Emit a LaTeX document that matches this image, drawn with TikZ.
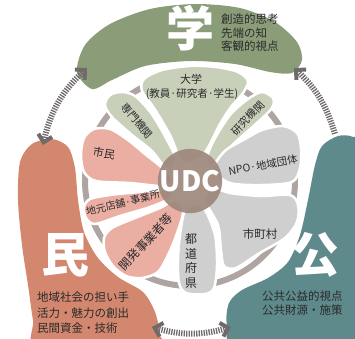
\documentclass[tikz,border=0pt]{standalone}
\usepackage{fontspec}
\newfontfamily\cjk{Noto Sans CJK JP}
\usetikzlibrary{arrows.meta}

\definecolor{gakugreen}{HTML}{8A9D78}
\definecolor{minorange}{HTML}{D2876E}
\definecolor{koteal}{HTML}{5F8A8C}
\definecolor{petalgreen}{HTML}{C8D0BA}
\definecolor{petalpink}{HTML}{EBAEA3}
\definecolor{petalgray}{HTML}{CFCFCF}
\definecolor{udcbrown}{HTML}{9C857A}
\definecolor{ringgray}{HTML}{AEA4A2}
\definecolor{linkgray}{HTML}{716a6a}
\definecolor{textdark}{HTML}{2A2A2A}

\begin{document}
\begin{tikzpicture}[x=1pt,y=1pt,
        petal/.style={draw=white, line width=2.5pt},
        txt/.style={text=textdark, inner sep=0pt, font=\cjk\fontsize{#1}{#1}\selectfont},
        txt/.default=11,
        bigchar/.style={text=white, inner sep=0pt, font=\cjk\bfseries\fontsize{48}{48}\selectfont},
        link/.style={linkgray, line width=6pt, dash pattern=on 1.3pt off 1.2pt,
            >={Straight Barb[angle=90:10pt, sharp, line width=4pt]}}]
    \useasboundingbox (0,0) rectangle (355,-338);
    \clip (0,0) rectangle (355,-338);

    % outer bands
    \fill[gakugreen] plot[smooth cycle] coordinates {(77,-72) (85,-45) (110,-24) (150,-9)
        (195,-4) (240,-8) (275,-22) (297,-42) (302,-60) (292,-73) (270,-72) (235,-64)
        (190,-61) (145,-66) (112,-80) (92,-89)};
    \fill[minorange] plot[smooth cycle] coordinates {(18,-200) (20,-162) (32,-144) (52,-139)
        (68,-147) (75,-168) (78,-200) (84,-232) (98,-258) (118,-277) (143,-292) (155,-312)
        (160,-335) (158,-350) (40,-352) (33,-320) (28,-285) (22,-245)};
    \fill[koteal] plot[smooth cycle] coordinates {(308,-200) (315,-165) (322,-146) (338,-136)
        (353,-137) (365,-150) (368,-345) (240,-348) (227,-325) (229,-303) (242,-290)
        (268,-278) (288,-262) (300,-235)};

    % ring
    \draw[ringgray, line width=6pt] (190,-181) circle[radius=105];

    % petals
    \fill[petalgreen, petal] plot[smooth cycle] coordinates {(183,-162) (170,-135) (154,-108)
        (142,-91) (144,-79) (162,-70) (190,-66) (216,-67) (238,-72) (248,-81) (243,-93)
        (231,-107) (220,-124) (203,-155)};
    \fill[petalgreen, petal] plot[smooth cycle] coordinates {(176,-160) (166,-138) (151,-113)
        (135,-96) (122,-92) (110,-95) (105,-105) (112,-117) (132,-135) (152,-151) (167,-169)};
    \fill[petalgreen, petal] plot[smooth cycle] coordinates {(207,-158) (214,-140) (230,-115)
        (248,-99) (262,-92) (273,-98) (272,-108) (258,-122) (240,-138) (222,-155) (212,-168)};
    \fill[petalpink, petal] plot[smooth cycle] coordinates {(172,-178) (160,-166) (145,-154)
        (128,-140) (110,-129) (94,-129) (84,-138) (81,-155) (84,-172) (96,-181) (130,-183)
        (165,-186)};
    \fill[petalpink, petal] plot[smooth cycle] coordinates {(168,-190) (140,-192) (110,-195)
        (90,-199) (84,-207) (86,-218) (95,-224) (120,-216) (150,-207) (170,-198)};
    \fill[petalpink, petal] plot[smooth cycle] coordinates {(176,-200) (160,-208) (135,-218)
        (112,-228) (104,-238) (105,-252) (113,-266) (126,-276) (142,-278) (158,-272)
        (168,-255) (176,-236) (183,-212)};
    \fill[petalgray, petal] plot[smooth cycle] coordinates {(185,-210) (180,-235) (178,-260)
        (179,-283) (186,-293) (205,-294) (214,-288) (217,-265) (215,-235) (205,-210)
        (195,-205)};
    \fill[petalgray, petal] plot[smooth cycle] coordinates {(205,-200) (218,-225) (221,-250)
        (224,-266) (236,-268) (258,-254) (285,-238) (297,-222) (298,-205) (290,-195)
        (260,-196) (230,-193) (212,-188)};
    \fill[petalgray, petal] plot[smooth cycle] coordinates {(212,-170) (216,-162) (226,-150)
        (245,-139) (262,-130) (283,-126) (297,-133) (301,-148) (300,-168) (292,-182)
        (262,-185) (230,-183)};

    \node[circle, fill=udcbrown, fill opacity=0.9, text opacity=1, minimum size=60pt,
        inner sep=0pt, text=white, font=\cjk\bfseries\fontsize{28}{28}\selectfont]
        (udc) at (190,-181) {UDC};

    % big characters and notes
    \node[bigchar] (gakuChar) at (190,-28) {学};
    \node[bigchar] (minChar) at (65,-255) {民};
    \node[bigchar] (koChar) at (315,-255) {公};
    \node[txt, align=left, anchor=west, font=\cjk\fontsize{11.5}{13.5}\selectfont]
        (gakuText) at (221,-33) {創造的思考\\先端の知\\客観的視点};
    \node[txt, align=left, anchor=west, font=\cjk\fontsize{11.5}{15.5}\selectfont]
        (minText) at (37,-313) {地域社会の担い手\\活力・魅力の創出\\民間資金・技術};
    \node[txt, align=left, anchor=west, font=\cjk\fontsize{11.5}{14.5}\selectfont]
        (koText) at (262,-303) {公共公益的視点\\公共財源・施策};

    % petal labels
    \node[txt] (daigaku) at (191,-79) {大学};
    \node[txt=10.5] (daigakuSub) at (192,-94) {(教員·研究者·学生)};
    \node[txt=10.5, rotate=-49] (senmon) at (137,-121) {専門機関};
    \node[txt=10.5, rotate=47] (kenkyu) at (248,-118) {研究機関};
    \node[txt=10.5, rotate=10] (npo) at (263,-165) {NPO·地域団体};
    \node[txt=11.5] (shichoson) at (260,-234) {市町村};
    \node[txt, align=center, font=\cjk\fontsize{12}{14.7}\selectfont]
        (todofuken) at (191,-261) {都\\道\\府\\県};
    \node[txt=12, rotate=47] (kaihatsu) at (146,-242) {開発事業者等};
    \node[txt=10, rotate=14] (jimoto) at (123,-203) {地元店舗·事業所};
    \node[txt, rotate=-10] (shimin) at (104,-153) {市民};

    % links between the three bands
    \coordinate (gakuL) at (87,-68);
    \coordinate (minT) at (43,-145);
    \coordinate (gakuR) at (294,-68);
    \coordinate (koT) at (335,-134);
    \coordinate (minB) at (152,-327);
    \coordinate (koB) at (231,-327);
    \draw[link,<->] (minT) to[bend left=17] (gakuL);
    \draw[link,<-] (gakuR) to[bend left=15] (koT);
    \draw[link,<->] (minB) to[bend right=16] (koB);
\end{tikzpicture}
\end{document}
